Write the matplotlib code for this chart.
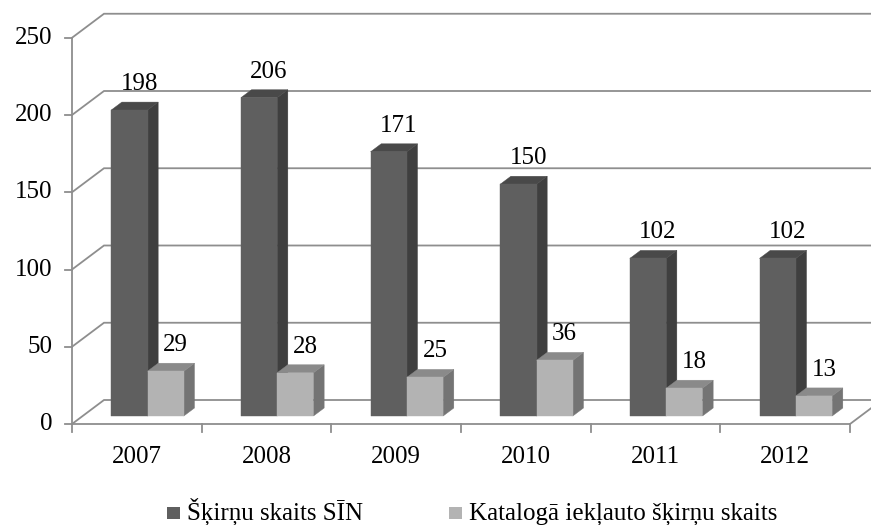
import matplotlib
matplotlib.use("Agg")
import matplotlib.pyplot as plt
from matplotlib.patches import Polygon, Rectangle
import numpy as np

# ---------------- data ----------------
categories = ["2007", "2008", "2009", "2010", "2011", "2012"]
series_names = ["Šķirņu skaits SĪN", "Katalogā iekļauto šķirņu skaits"]
sin_values = [198, 206, 171, 150, 102, 102]
catalog_values = [29, 28, 25, 36, 18, 13]
y_ticks = [0, 50, 100, 150, 200, 250]

# ---------------- style ----------------
W, H, DPI = 871, 525, 100
FONT = "Liberation Serif"
FS = 18
GRID = "#8e8e8e"
dark = dict(front="#5f5f5f", top="#494949", side="#3f3f3f")
light = dict(front="#b3b3b3", top="#8a8a8a", side="#747474")

# pixel scale of the plot (front plane)
X0_PX, CAT_PX = 72, 129.67       # left edge and width of one category
Y0_PX, VAL_PX = 424, 1.545       # pixel row of value 0 and px per unit

fig = plt.figure(figsize=(W / DPI, H / DPI), dpi=DPI)
ax = fig.add_axes([0, 0, 1, 1])
ax.set_xlim(-X0_PX / CAT_PX, (W - X0_PX) / CAT_PX)
ax.set_ylim(-(H - Y0_PX) / VAL_PX, Y0_PX / VAL_PX)
ax.axis("off")

def px_x(p):
    return p / CAT_PX

def px_y(p):
    return p / VAL_PX

# 3-D depth offsets (data units)
DX, DY = px_x(32), px_y(24)          # full floor depth
BDX, BDY = DX / 3, DY / 3             # bar depth (start plane + own depth)
n = len(categories)
xmax = ax.get_xlim()[1]

# ---------------- walls / grid ----------------
lw = 1.3
for v in y_ticks:
    ax.plot([0, DX, xmax], [v, v + DY, v + DY], color=GRID, lw=lw, zorder=1,
            solid_joinstyle="miter")
    ax.plot([-px_x(7), 0], [v, v], color=GRID, lw=lw, zorder=1)
    ax.text(-px_x(20), v, str(v), ha="right", va="center", fontsize=FS,
            family=FONT, color="black")
# left wall front edge
ax.plot([0, 0], [0, y_ticks[-1]], color=GRID, lw=lw, zorder=1)
# floor front edge and right edge
ax.plot([0, n, n + DX], [0, 0, DY], color=GRID, lw=lw, zorder=1,
        solid_joinstyle="miter")
for c in range(n + 1):
    ax.plot([c, c], [0, -px_y(8)], color=GRID, lw=lw, zorder=1)

# category labels
for i, cat in enumerate(categories):
    ax.annotate(cat, xy=(i + 0.5, 0), xytext=(0, -39 * 72 / DPI),
                textcoords="offset points", ha="center", va="baseline",
                fontsize=FS, family=FONT)

# ---------------- bars ----------------
def bar3d(x_left, width, value, cols, z):
    x0 = x_left + BDX
    y0 = BDY
    x1 = x0 + width
    y1 = y0 + value
    front = [(x0, y0), (x1, y0), (x1, y1), (x0, y1)]
    top = [(x0, y1), (x1, y1), (x1 + BDX, y1 + BDY), (x0 + BDX, y1 + BDY)]
    side = [(x1, y0), (x1 + BDX, y0 + BDY), (x1 + BDX, y1 + BDY), (x1, y1)]
    ax.add_patch(Polygon(side, closed=True, facecolor=cols["side"],
                         edgecolor=cols["side"], lw=0.3, zorder=z))
    ax.add_patch(Polygon(top, closed=True, facecolor=cols["top"],
                         edgecolor=cols["top"], lw=0.3, zorder=z))
    ax.add_patch(Polygon(front, closed=True, facecolor=cols["front"],
                         edgecolor=cols["front"], lw=0.3, zorder=z + 0.1))
    # value label
    ax.annotate(str(value), xy=(x0 + width / 2, y1),
                xytext=(10 * 72 / DPI, 26 * 72 / DPI), textcoords="offset points",
                ha="center", va="center", fontsize=FS, family=FONT, zorder=20)

BW, GAP = 0.28, 0.22
for i in range(n):
    bar3d(i + GAP, BW, sin_values[i], dark, 3 + i)
    bar3d(i + GAP + BW, BW, catalog_values[i], light, 3.5 + i)

# ---------------- legend ----------------
def legend_item(x_sq, label, color):
    ax.add_patch(Rectangle((x_sq / W, 1 - 519 / H), 13 / W, 12 / H,
                           transform=ax.transAxes, facecolor=color,
                           edgecolor="none", clip_on=False))
    ax.text((x_sq + 20) / W, 1 - 519 / H, label, transform=ax.transAxes,
            ha="left", va="baseline", fontsize=FS, family=FONT)

legend_item(167, series_names[0], dark["front"])
legend_item(449, series_names[1], light["front"])

fig.savefig("out.png", dpi=DPI)
